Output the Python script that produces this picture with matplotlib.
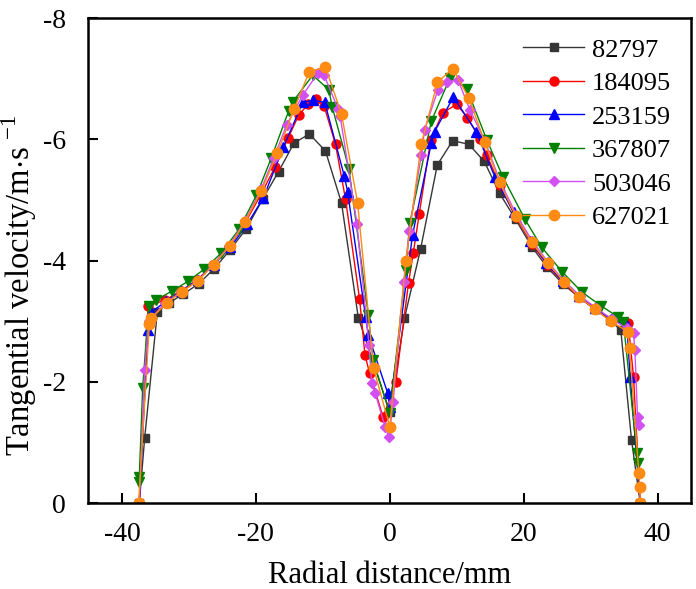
import matplotlib
matplotlib.use("Agg")
import matplotlib.pyplot as plt

plt.rcParams["font.family"] = ["Liberation Serif", "DejaVu Serif"]
plt.rcParams["mathtext.fontset"] = "custom"
plt.rcParams["mathtext.rm"] = "Liberation Serif"
plt.rcParams["axes.unicode_minus"] = False

# Reynolds number of each run (legend labels)
labels = ["82797", "184095", "253159", "367807", "503046", "627021"]

x_82797 = [-37.4, -36.6, -34.7, -33.0, -30.8, -28.5, -26.2, -23.9, -21.4, -19.0, -16.6, -14.3, -12.0,
           -9.6, -7.2, -4.7, 0.0, 2.2, 4.6, 7.1, 9.4, 11.8, 14.1, 16.4, 18.8, 21.2, 23.5, 25.9, 28.2,
           30.6, 32.9, 34.5, 36.1, 37.4]
y_82797 = [0.0, -1.07, -3.16, -3.30, -3.45, -3.62, -3.87, -4.17, -4.53, -5.01, -5.47, -5.94, -6.09,
           -5.81, -4.95, -3.06, -1.50, -3.05, -4.19, -5.58, -5.98, -5.92, -5.64, -5.11, -4.68, -4.23,
           -3.89, -3.61, -3.40, -3.20, -3.02, -2.85, -1.04, 0.0]

x_184095 = [-37.4, -36.1, -33.5, -31.2, -28.8, -26.4, -24.0, -21.6, -19.2, -17.1, -15.2, -13.6, -12.2,
            -11.0, -9.8, -8.1, -6.6, -4.5, -3.7, -3.0, -1.0, 0.9, 2.8, 3.5, 4.4, 6.1, 7.9, 10.0, 11.6,
            13.5, 14.5, 16.4, 18.8, 21.2, 23.5, 25.9, 28.2, 30.6, 33.0, 35.6, 36.4, 37.4]
y_184095 = [0.0, -3.25, -3.35, -3.50, -3.68, -3.93, -4.22, -4.62, -5.10, -5.55, -6.02, -6.40, -6.58,
            -6.66, -6.55, -5.92, -5.01, -3.36, -2.44, -2.14, -1.42, -1.99, -3.63, -4.12, -4.77, -5.99,
            -6.44, -6.58, -6.36, -6.00, -5.74, -5.25, -4.72, -4.28, -3.93, -3.64, -3.40, -3.20, -3.02,
            -2.97, -2.08, 0.0]

x_253159 = [-37.4, -36.1, -35.6, -33.4, -31.1, -28.7, -26.3, -23.8, -21.3, -18.9, -15.9, -13.0, -11.4,
            -9.7, -6.8, -6.3, -3.6, -3.2, -0.3, 0.0, 3.4, 6.2, 6.7, 9.5, 12.9, 15.7, 18.5, 21.0, 23.4,
            25.8, 28.2, 30.6, 33.1, 35.4, 35.9, 37.4]
y_253159 = [0.0, -2.85, -3.15, -3.33, -3.50, -3.68, -3.93, -4.22, -4.60, -5.03, -5.87, -6.61, -6.65,
            -6.61, -5.40, -5.14, -3.07, -2.77, -1.81, -1.59, -4.42, -5.94, -6.13, -6.70, -6.13, -5.38,
            -4.80, -4.33, -3.96, -3.66, -3.42, -3.22, -3.03, -2.93, -2.08, 0.0]

x_367807 = [-37.5, -37.4, -36.9, -36.0, -34.9, -32.5, -30.1, -27.7, -25.2, -22.5, -19.9, -17.7, -15.1,
            -14.5, -11.5, -9.1, -8.6, -6.1, -3.2, -2.5, 0.0, 2.4, 3.0, 6.2, 9.0, 11.5, 14.5, 16.9, 20.2,
            22.7, 25.7, 28.7, 31.6, 34.1, 34.9, 36.9, 37.0]
y_367807 = [-0.35, -0.43, -1.89, -3.25, -3.35, -3.50, -3.66, -3.86, -4.12, -4.52, -5.08, -5.69, -6.47,
            -6.62, -7.06, -6.82, -6.54, -5.52, -3.10, -2.36, -1.48, -3.84, -4.62, -6.30, -7.02, -6.84,
            -5.99, -5.38, -4.68, -4.22, -3.82, -3.48, -3.25, -3.07, -2.98, -0.82, -0.66]

x_503046 = [-37.4, -36.6, -36.0, -33.6, -31.2, -28.8, -26.4, -24.0, -21.6, -19.2, -17.3, -15.4, -13.0,
            -10.7, -9.8, -7.7, -7.4, -4.9, -3.1, -2.7, -2.2, -0.7, -0.1, 0.5, 2.1, 2.9, 4.7, 5.2, 7.2,
            8.5, 10.2, 12.0, 14.2, 16.5, 18.9, 21.3, 23.6, 26.0, 28.4, 30.8, 33.2, 35.4, 36.4, 36.6,
            37.0, 37.2]
y_503046 = [0.0, -2.19, -3.00, -3.30, -3.48, -3.66, -3.93, -4.24, -4.66, -5.18, -5.70, -6.24, -6.73,
            -7.10, -7.06, -6.50, -6.38, -4.61, -2.61, -1.98, -1.82, -1.26, -1.09, -1.67, -3.65, -4.49,
            -5.74, -6.16, -6.82, -6.95, -6.98, -6.48, -5.98, -5.30, -4.76, -4.32, -3.98, -3.67, -3.42,
            -3.22, -3.03, -2.88, -2.80, -2.52, -1.42, -1.28]

x_627021 = [-37.5, -35.9, -35.6, -33.3, -31.0, -28.7, -26.3, -23.9, -21.6, -19.2, -16.8, -14.3, -12.0,
            -9.6, -7.2, -4.8, -2.4, 0.0, 2.4, 4.7, 7.1, 9.4, 11.8, 14.2, 16.4, 18.8, 21.2, 23.6, 26.0,
            28.3, 30.6, 33.0, 35.5, 35.8, 37.2, 37.3, 37.4]
y_627021 = [0.0, -2.95, -3.05, -3.30, -3.49, -3.66, -3.93, -4.24, -4.64, -5.15, -5.77, -6.50, -7.12,
            -7.19, -6.42, -4.95, -2.22, -1.26, -3.99, -5.92, -6.94, -7.17, -6.69, -5.95, -5.29, -4.74,
            -4.30, -3.96, -3.65, -3.40, -3.20, -3.00, -2.83, -2.55, -0.49, -0.27, 0.0]

xs = [x_82797, x_184095, x_253159, x_367807, x_503046, x_627021]
ys = [y_82797, y_184095, y_253159, y_367807, y_503046, y_627021]
colors = ["#363636", "#ff0000", "#0000ff", "#008000", "#d24ff2", "#ff8a14"]
markers = ["s", "o", "^", "v", "D", "o"]
msizes = [5.5, 6.5, 7, 7, 5.5, 7.5]

fig = plt.figure(figsize=(6.96, 5.89), dpi=100)
ax = fig.add_axes([0.127, 0.146, 0.866, 0.823])

for x, y, c, m, ms, lab in zip(xs, ys, colors, markers, msizes, labels):
    ax.plot(x, y, color=c, marker=m, markersize=ms, linewidth=1.0, label=lab)

ax.set_xlim(-45, 45)
ax.set_ylim(0, -8)
ax.set_xticks([-40, -20, 0, 20, 40])
ax.set_yticks([0, -2, -4, -6, -8])
ax.tick_params(direction="in", length=7, width=1.5, labelsize=20)
ax.tick_params(axis="y", pad=16)
ax.tick_params(axis="x", pad=14)
for s in ax.spines.values():
    s.set_linewidth(1.8)

ax.set_xlabel("Radial distance/mm", fontsize=22, labelpad=10)
ax.set_ylabel(r"Tangential velocity/m$\cdot$s$^{\ \mathrm{-1}}$", fontsize=23.5)
ax.yaxis.set_label_coords(-0.082, 0.45)

ax.legend(loc="upper right", frameon=False, fontsize=19, handlelength=2.3,
          labelspacing=0.38, handletextpad=0.3, borderaxespad=0.35)

fig.savefig("out.png", dpi=100)
